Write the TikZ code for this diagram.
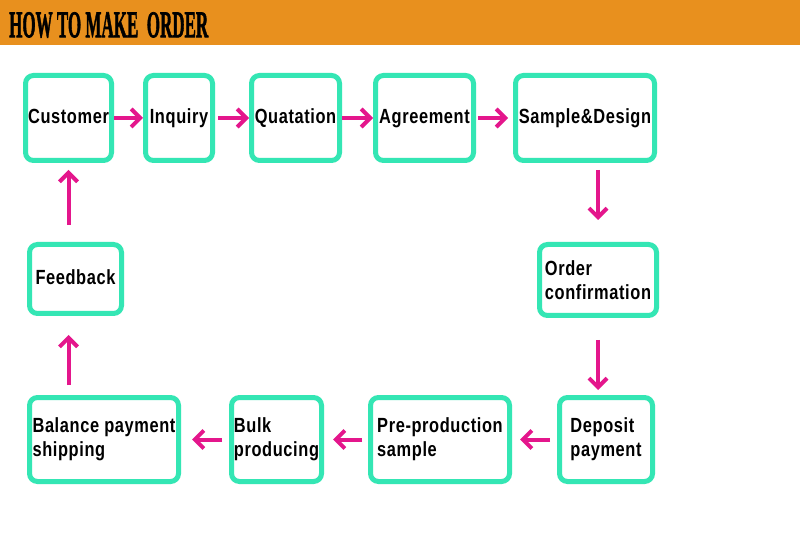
\documentclass[tikz,border=0pt]{standalone}
\usepackage{fontspec}
\setmainfont{Liberation Sans}
\newfontfamily\labfont{Liberation Sans}[FakeStretch=0.8,LetterSpace=3]
\newfontfamily\titlefont{Liberation Serif}[FakeBold=2]
\usetikzlibrary{arrows.meta}
\definecolor{hdr}{HTML}{E8901E}
\definecolor{mint}{HTML}{34E6B4}
\definecolor{mag}{HTML}{E4168C}
\begin{document}
\begin{tikzpicture}[x=1pt,y=-1pt,
  box/.style={draw=mint,line width=5pt,rounded corners=8pt,fill=white,
    font=\labfont\bfseries\fontsize{20.5}{24}\selectfont,align=left,inner sep=0pt},
  one/.style={text height=15pt,text depth=4pt},
  flow/.style={draw=mag,line width=4pt,-{Straight Barb[length=9pt,width=18pt,line width=4pt]}}]
\useasboundingbox (0,0) rectangle (800,534);
\fill[white] (0,0) rectangle (800,534);
\fill[hdr] (0,0) rectangle (800,45);
\node[anchor=south west,inner sep=0pt] (title) at (9,38)
  {\resizebox{199pt}{25pt}{\titlefont\bfseries HOW TO MAKE\ \ ORDER}};
% top row
\node[box,one,minimum width=86pt,minimum height=85pt] (cust) at (68.5,118) {Customer};
\node[box,one,minimum width=67pt,minimum height=85pt] (inq) at (179,118) {Inquiry};
\node[box,one,minimum width=88pt,minimum height=85pt] (quo) at (295.5,118) {Quatation};
\node[box,one,minimum width=98pt,minimum height=85pt] (agr) at (424.5,118) {Agreement};
\node[box,one,minimum width=139pt,minimum height=85pt] (sd) at (585,118) {Sample\&Design};
% right column
\node[box,minimum width=117pt,minimum height=71pt] (oc) at (598,280) {Order\\confirmation};
\node[box,minimum width=93pt,minimum height=84pt] (dp) at (606,439.5) {Deposit\\payment};
% bottom row
\node[box,minimum width=139pt,minimum height=84pt] (pre) at (440,439.5) {Pre-production\\sample};
\node[box,minimum width=90pt,minimum height=84pt] (bulk) at (276.5,439.5) {Bulk\\producing};
\node[box,minimum width=149pt,minimum height=84pt] (bal) at (104,439.5) {Balance payment\\shipping};
% left column
\node[box,one,minimum width=92pt,minimum height=69pt] (fb) at (75.5,279) {Feedback};
% connectors
\draw[flow] (cust.east) -- (inq.west);
\draw[flow,shorten <=3pt] (inq.east) -- (quo.west);
\draw[flow] (quo.east) -- (agr.west);
\draw[flow,shorten <=2pt,shorten >=5pt] (agr.east) -- (sd.west);
\draw[flow,shorten <=7pt,shorten >=22pt] (sd.south -| oc.north) -- (oc.north);
\draw[flow,shorten <=22pt,shorten >=5pt] (oc.south) -- (oc.south |- dp.north);
\draw[flow,shorten <=7pt,shorten >=8pt] (dp.west) -- (pre.east);
\draw[flow,shorten <=6pt,shorten >=9pt] (pre.west) -- (bulk.east);
\draw[flow,shorten <=7pt,shorten >=11pt] (bulk.west) -- (bal.east);
\draw[flow,shorten <=10pt,shorten >=19pt] (bal.north -| cust.south) -- (fb.south -| cust.south);
\draw[flow,shorten <=17pt,shorten >=7pt] (fb.north -| cust.south) -- (cust.south);
\end{tikzpicture}
\end{document}
